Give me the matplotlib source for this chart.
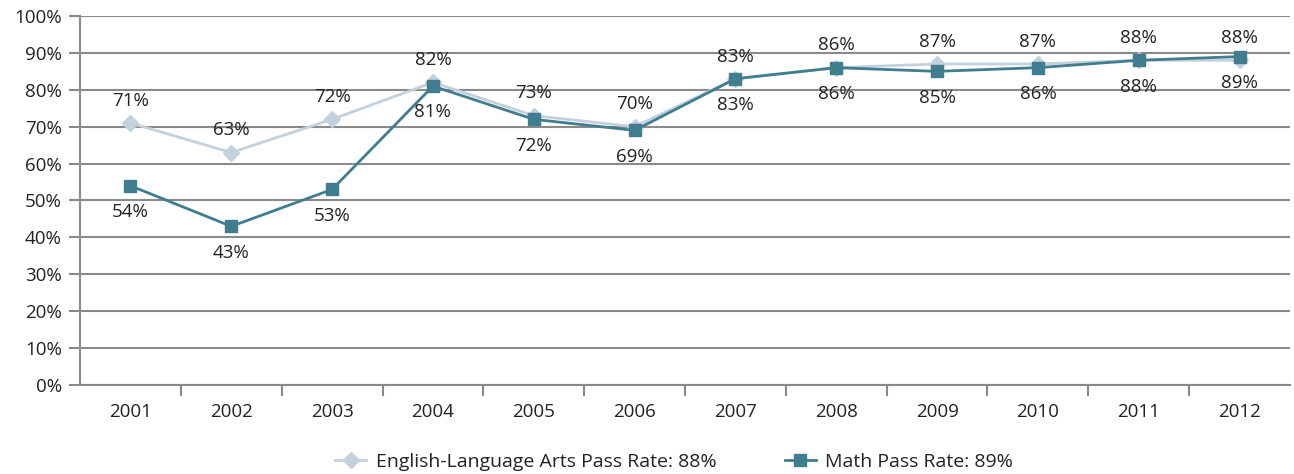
import matplotlib
matplotlib.use("Agg")
import matplotlib.pyplot as plt
from matplotlib.ticker import FixedLocator, PercentFormatter

years = ["2001", "2002", "2003", "2004", "2005", "2006",
         "2007", "2008", "2009", "2010", "2011", "2012"]
ela = [71, 63, 72, 82, 73, 70, 83, 86, 87, 87, 88, 88]
math_ = [54, 43, 53, 81, 72, 69, 83, 86, 85, 86, 88, 89]
ela_label = "English-Language Arts Pass Rate: 88%"
math_label = "Math Pass Rate: 89%"

plt.rcParams['font.family'] = ['Open Sans', 'DejaVu Sans']

ELA_C = "#c3d1dc"
MATH_C = "#3f7d8f"
GRID_C = "#8a8a8a"
TXT_C = "#222222"

fig = plt.figure(figsize=(12.94, 4.74), dpi=100)
ax = fig.add_axes([80/1294, 1-385/474, (1290-80)/1294, (385-16)/474])

x = list(range(len(years)))
ax.plot(x, ela, color=ELA_C, lw=2, marker="D", ms=8, label=ela_label, zorder=3)
ax.plot(x, math_, color=MATH_C, lw=2, marker="s", ms=9, label=math_label, zorder=4)

for xi, v in zip(x, ela):
    ax.annotate(f"{v}%", (xi, v), xytext=(0, 16), textcoords="offset points",
                ha="center", va="center", fontsize=13.5, color=TXT_C, zorder=5)
for xi, v in zip(x, math_):
    ax.annotate(f"{v}%", (xi, v), xytext=(0, -19), textcoords="offset points",
                ha="center", va="center", fontsize=13.5, color=TXT_C, zorder=5)

ax.set_xlim(-0.5, len(years) - 0.5)
ax.set_ylim(0, 100)
ax.set_yticks(range(0, 101, 10))
ax.yaxis.set_major_formatter(PercentFormatter(decimals=0))
ax.set_xticks(x)
ax.set_xticklabels(years)
ax.xaxis.set_minor_locator(FixedLocator([i + 0.5 for i in range(len(years) - 1)]))
ax.tick_params(axis="x", which="major", length=0, pad=13, labelsize=13.5, labelcolor=TXT_C)
ax.tick_params(axis="x", which="minor", length=8, width=1.5, color=GRID_C, direction="out")
ax.tick_params(axis="y", length=8, width=1.5, color=GRID_C, pad=5, labelsize=13.5, labelcolor=TXT_C)

ax.grid(axis="y", color=GRID_C, lw=1.5, zorder=0)
ax.set_axisbelow(True)
for s in ["top", "right"]:
    ax.spines[s].set_visible(False)
for s in ["left", "bottom"]:
    ax.spines[s].set_color(GRID_C)
    ax.spines[s].set_linewidth(1.5)

fig.legend(loc="center", bbox_to_anchor=(0.521, 0.026), ncol=2, frameon=False,
           fontsize=14, handlelength=1.6, handletextpad=0.5, columnspacing=3.5,
           labelcolor=TXT_C)

fig.savefig("out.png", dpi=100)
